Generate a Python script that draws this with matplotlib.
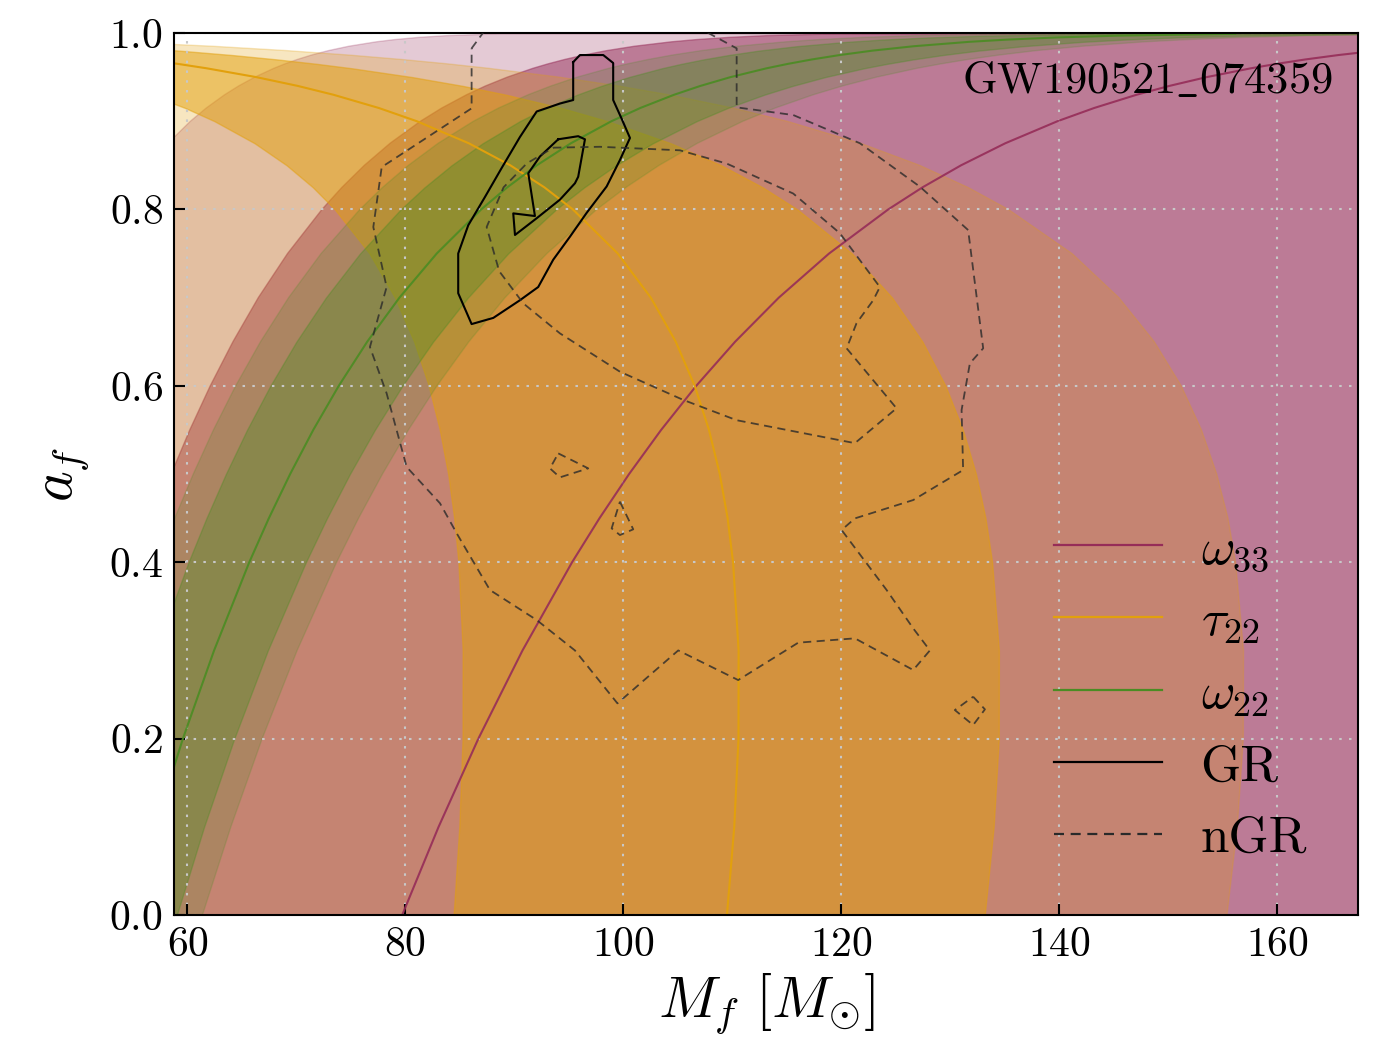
import numpy as np
import matplotlib
matplotlib.use("Agg")
import matplotlib.pyplot as plt

plt.rcParams['font.family'] = 'serif'
plt.rcParams['font.serif'] = ['cmr10']
plt.rcParams['mathtext.fontset'] = 'cm'
plt.rcParams['axes.formatter.use_mathtext'] = True

# remnant spin grid on which every mode curve is tabulated
spin = [0, 0.1, 0.2, 0.3, 0.4, 0.45, 0.5, 0.55, 0.6, 0.65, 0.7, 0.75, 0.8, 0.825, 0.85, 0.875,
        0.9, 0.915, 0.93, 0.94, 0.95, 0.96, 0.965, 0.97, 0.975, 0.98, 0.985, 0.99, 0.9925, 0.995, 0.997, 0.999]

# omega_33 : remnant mass [Msun] of the median and the two credible bands
w33_med = [79.70, 83.04, 86.69, 90.74, 95.29, 97.81, 100.52, 103.46, 106.68, 110.25, 114.26, 118.87, 124.30, 127.44, 130.98, 135.04,
           139.83, 143.20, 147.09, 150.09, 153.52, 157.58, 159.93, 162.57, 165.60, 169.18, 173.58, 179.40, 183.28, 188.41, 194.36, 205.43]
w33_in_lo = [46.39, 48.33, 50.45, 52.81, 55.46, 56.93, 58.50, 60.21, 62.09, 64.17, 66.50, 69.18, 72.34, 74.17, 76.23, 78.59,
             81.38, 83.34, 85.61, 87.35, 89.35, 91.71, 93.08, 94.62, 96.38, 98.46, 101.02, 104.41, 106.67, 109.65, 113.12, 119.56]
w33_out_lo = [34.35, 35.79, 37.36, 39.11, 41.07, 42.16, 43.32, 44.59, 45.98, 47.52, 49.25, 51.23, 53.57, 54.93, 56.45, 58.20,
              60.27, 61.72, 63.40, 64.69, 66.17, 67.92, 68.93, 70.07, 71.37, 72.92, 74.81, 77.32, 78.99, 81.20, 83.77, 88.54]
w33_in_hi = [185, 195, 205, 215, 225, 230, 235, 242, 250, 257, 265, 277, 290, 297, 305, 315,
             325, 330, 340, 347, 355, 365, 368, 375, 382, 390, 400, 415, 425, 435, 450, 475]
w33_out_hi = [225, 235, 245, 255, 265, 272, 280, 290, 300, 310, 320, 335, 350, 357, 365, 378,
              390, 400, 410, 420, 430, 440, 448, 455, 465, 475, 487, 500, 515, 530, 545, 575]

# tau_22
t22_med = [109.50, 110.17, 110.56, 110.57, 110.06, 109.56, 108.84, 107.85, 106.54, 104.80, 102.51, 99.48, 95.36, 92.75, 89.62, 85.81,
           81.04, 77.55, 73.39, 70.12, 66.30, 61.75, 59.11, 56.13, 52.72, 48.74, 43.90, 37.70, 33.73, 28.72, 23.31, 14.63]
t22_in_lo = [84.42, 84.94, 85.24, 85.25, 84.86, 84.47, 83.92, 83.15, 82.14, 80.80, 79.04, 76.70, 73.52, 71.51, 69.10, 66.16,
             62.48, 59.79, 56.58, 54.06, 51.12, 47.61, 45.57, 43.28, 40.65, 37.58, 33.85, 29.07, 26.01, 22.14, 17.97, 11.28]
t22_in_hi = [133.15, 133.97, 134.44, 134.45, 133.83, 133.22, 132.35, 131.15, 129.55, 127.44, 124.65, 120.97, 115.96, 112.78, 108.98, 104.34,
             98.54, 94.30, 89.24, 85.27, 80.62, 75.09, 71.88, 68.25, 64.11, 59.27, 53.38, 45.84, 41.02, 34.92, 28.35, 17.79]
t22_out_lo = [56.94, 57.29, 57.49, 57.50, 57.23, 56.97, 56.60, 56.08, 55.40, 54.50, 53.31, 51.73, 49.59, 48.23, 46.60, 44.62,
              42.14, 40.33, 38.16, 36.46, 34.48, 32.11, 30.74, 29.19, 27.41, 25.34, 22.83, 19.60, 17.54, 14.93, 12.12, 7.61]
t22_out_hi = [155.38, 156.33, 156.88, 156.90, 156.17, 155.47, 154.44, 153.04, 151.18, 148.71, 145.46, 141.16, 135.32, 131.61, 127.17, 121.76,
              115.00, 110.04, 104.14, 99.50, 94.08, 87.62, 83.88, 79.65, 74.81, 69.16, 62.29, 53.50, 47.86, 40.75, 33.08, 20.76]

# omega_22
w22_med = [54.70, 57.02, 59.58, 62.44, 65.67, 67.47, 69.42, 71.54, 73.88, 76.49, 79.45, 82.87, 86.95, 89.34, 92.05, 95.18,
           98.90, 101.55, 104.65, 107.06, 109.83, 113.14, 115.09, 117.29, 119.84, 122.85, 126.64, 131.74, 135.20, 139.86, 145.39, 156.13]
w22_out_lo = [47.70, 49.72, 51.95, 54.45, 57.26, 58.83, 60.53, 62.38, 64.42, 66.70, 69.28, 72.26, 75.82, 77.90, 80.27, 83.00,
              86.24, 88.55, 91.26, 93.36, 95.77, 98.66, 100.36, 102.28, 104.50, 107.13, 110.43, 114.88, 117.89, 121.96, 126.78, 136.15]
w22_in_lo = [50.05, 52.17, 54.52, 57.13, 60.09, 61.74, 63.52, 65.46, 67.60, 69.99, 72.70, 75.83, 79.56, 81.75, 84.23, 87.09,
             90.49, 92.92, 95.75, 97.96, 100.49, 103.52, 105.31, 107.32, 109.65, 112.41, 115.88, 120.54, 123.71, 127.97, 133.03, 142.86]
w22_in_hi = [59.02, 61.52, 64.29, 67.37, 70.86, 72.80, 74.90, 77.19, 79.72, 82.53, 85.73, 89.42, 93.82, 96.40, 99.32, 102.70,
             106.71, 109.57, 112.92, 115.52, 118.51, 122.08, 124.18, 126.56, 129.31, 132.55, 136.64, 142.15, 145.88, 150.91, 156.88, 168.46]
w22_out_hi = [61.37, 63.98, 66.85, 70.06, 73.68, 75.70, 77.89, 80.27, 82.89, 85.82, 89.14, 92.98, 97.56, 100.24, 103.28, 106.79,
              110.97, 113.94, 117.42, 120.12, 123.23, 126.94, 129.13, 131.60, 134.46, 137.84, 142.09, 147.81, 151.69, 156.92, 163.13, 175.18]

# GR posterior contours (Mf, af)
gr_outer_m = [95.39, 96.01, 98.15, 99.06, 99.06, 99.83, 100.60, 99.68, 98.46, 96.62, 95.09, 93.56, 92.18, 90.50, 88.06, 86.07, 84.84, 84.84, 85.76, 87.29, 88.83, 90.50, 92.04, 94.17, 95.39]
gr_outer_a = [0.967, 0.975, 0.975, 0.966, 0.924, 0.903, 0.881, 0.856, 0.826, 0.796, 0.769, 0.743, 0.712, 0.697, 0.677, 0.670, 0.705, 0.750, 0.782, 0.814, 0.847, 0.882, 0.911, 0.920, 0.924]
gr_inner_m = [94.02, 95.85, 96.47, 95.85, 95.55, 94.17, 92.04, 90.05, 89.89, 91.88, 91.27, 92.34]
gr_inner_a = [0.8795, 0.883, 0.8795, 0.837, 0.8296, 0.811, 0.790, 0.771, 0.7955, 0.7925, 0.841, 0.860]

# non-GR posterior contours
ngr_outer_m = [86.07, 88.3, 104.8, 110.39, 110.39, 115.58, 121.70, 127.20, 131.63, 133.01, 131.79, 131.03, 131.17, 126.59, 121.24, 120.02, 124.15, 126.59, 128.12, 126.59, 121.24, 116.04, 110.53, 105.03, 99.45, 95.55, 92.04, 87.75, 84.70, 83.17, 80.11, 78.27, 76.74, 78.27, 77.05, 77.82, 86.07]
ngr_outer_a = [0.9826, 1.02, 1.02, 0.9826, 0.9157, 0.907, 0.875, 0.8258, 0.7766, 0.6425, 0.6255, 0.5726, 0.5045, 0.4705, 0.4497, 0.4365, 0.3685, 0.325, 0.300, 0.2778, 0.3137, 0.3088, 0.2664, 0.300, 0.240, 0.300, 0.3345, 0.3685, 0.4328, 0.4668, 0.508, 0.5915, 0.644, 0.712, 0.780, 0.848, 0.9146]
ngr_inner_m = [93.56, 97.84, 105.18, 109.47, 115.58, 119.86, 123.53, 122.92, 121.39, 120.48, 125.06, 121.24, 110.39, 105.49, 99.68, 94.17, 90.81, 88.6, 87.45, 89.0, 91.12]
ngr_inner_a = [0.870, 0.871, 0.867, 0.852, 0.818, 0.773, 0.712, 0.697, 0.671, 0.6425, 0.5745, 0.535, 0.561, 0.584, 0.616, 0.6595, 0.6935, 0.73, 0.780, 0.825, 0.852]
ngr_isl1_m = [94.02, 96.77, 94.17, 93.26]
ngr_isl1_a = [0.5234, 0.5064, 0.4962, 0.5064]
ngr_isl2_m = [99.68, 100.90, 99.68, 98.92]
ngr_isl2_a = [0.4686, 0.4373, 0.4308, 0.4384]
ngr_isl3_m = [132.09, 133.17, 132.09, 130.41]
ngr_isl3_a = [0.2475, 0.2332, 0.2154, 0.2324]

C33 = '#962d58'
CT22 = '#e2a00c'
C22 = '#4b8c23'

fig = plt.figure(figsize=(13.83, 10.41), dpi=100)
ax = fig.add_axes([0.1258, 0.1210, 0.8561, 0.8473])


def band(out_lo, in_lo, in_hi, out_hi, col, a_out, a_in):
    ax.fill_betweenx(spin, out_lo, out_hi, color=col, alpha=a_out, lw=1, zorder=1)
    ax.fill_betweenx(spin, in_lo, in_hi, color=col, alpha=a_in, lw=1, zorder=1)


band(w33_out_lo, w33_in_lo, w33_in_hi, w33_out_hi, C33, 0.25, 0.5)
band(t22_out_lo, t22_in_lo, t22_in_hi, t22_out_hi, CT22, 0.26, 0.5)
band(w22_out_lo, w22_in_lo, w22_in_hi, w22_out_hi, C22, 0.2, 0.35)

ax.plot(w33_med, spin, color=C33, lw=1.5, alpha=0.9, zorder=2, label=r'$\omega_{33}$')
ax.plot(t22_med, spin, color=CT22, lw=1.5, zorder=2, label=r'$\tau_{22}$')
ax.plot(w22_med, spin, color=C22, lw=1.5, alpha=0.9, zorder=2, label=r'$\omega_{22}$')


def closed(m, a):
    return list(m) + [m[0]], list(a) + [a[0]]


dash = (0, (4.5, 3))
m, a = closed(gr_outer_m, gr_outer_a)
ax.plot(m, a, color='k', lw=1.5, zorder=3, label='GR')
m, a = closed(gr_inner_m, gr_inner_a)
ax.plot(m, a, color='k', lw=1.5, zorder=3)
first = True
for mm, aa in [(ngr_outer_m, ngr_outer_a), (ngr_inner_m, ngr_inner_a),
               (ngr_isl1_m, ngr_isl1_a), (ngr_isl2_m, ngr_isl2_a), (ngr_isl3_m, ngr_isl3_a)]:
    m, a = closed(mm, aa)
    ax.plot(m, a, color='#2a2a2a', lw=1.3, ls=dash, alpha=0.8, zorder=3,
            label='nGR' if first else None)
    first = False

ax.set_xlim(58.76, 167.4)
ax.set_ylim(0, 1)
ax.set_xticks([60, 80, 100, 120, 140, 160])
ax.set_yticks([0, 0.2, 0.4, 0.6, 0.8, 1.0])
ax.grid(True, color='#c8c8c8', lw=1.5, ls=(0, (1.2, 3.5)))
ax.tick_params(direction='in', length=8, width=1.5, labelsize=30, pad=8,
               top=False, right=False)
for s in ax.spines.values():
    s.set_linewidth(1.5)

ax.set_xlabel(r'$M_f\ [M_{\odot}]$', fontsize=42, labelpad=6)
ax.set_ylabel(r'$a_f$', fontsize=42, labelpad=12)

ax.text(0.979, 0.967, r'$\mathrm{GW190521\_074359}$', transform=ax.transAxes,
        ha='right', va='top', fontsize=32)

leg = ax.legend(loc='center left', bbox_to_anchor=(0.726, 0.25), frameon=False,
                fontsize=37, handlelength=2.1, handletextpad=0.75, labelspacing=0.5,
                borderaxespad=0)
for h in leg.get_lines():
    h.set_linewidth(1.6)
    h.set_alpha(1)

fig.savefig('out.png', dpi=100)
